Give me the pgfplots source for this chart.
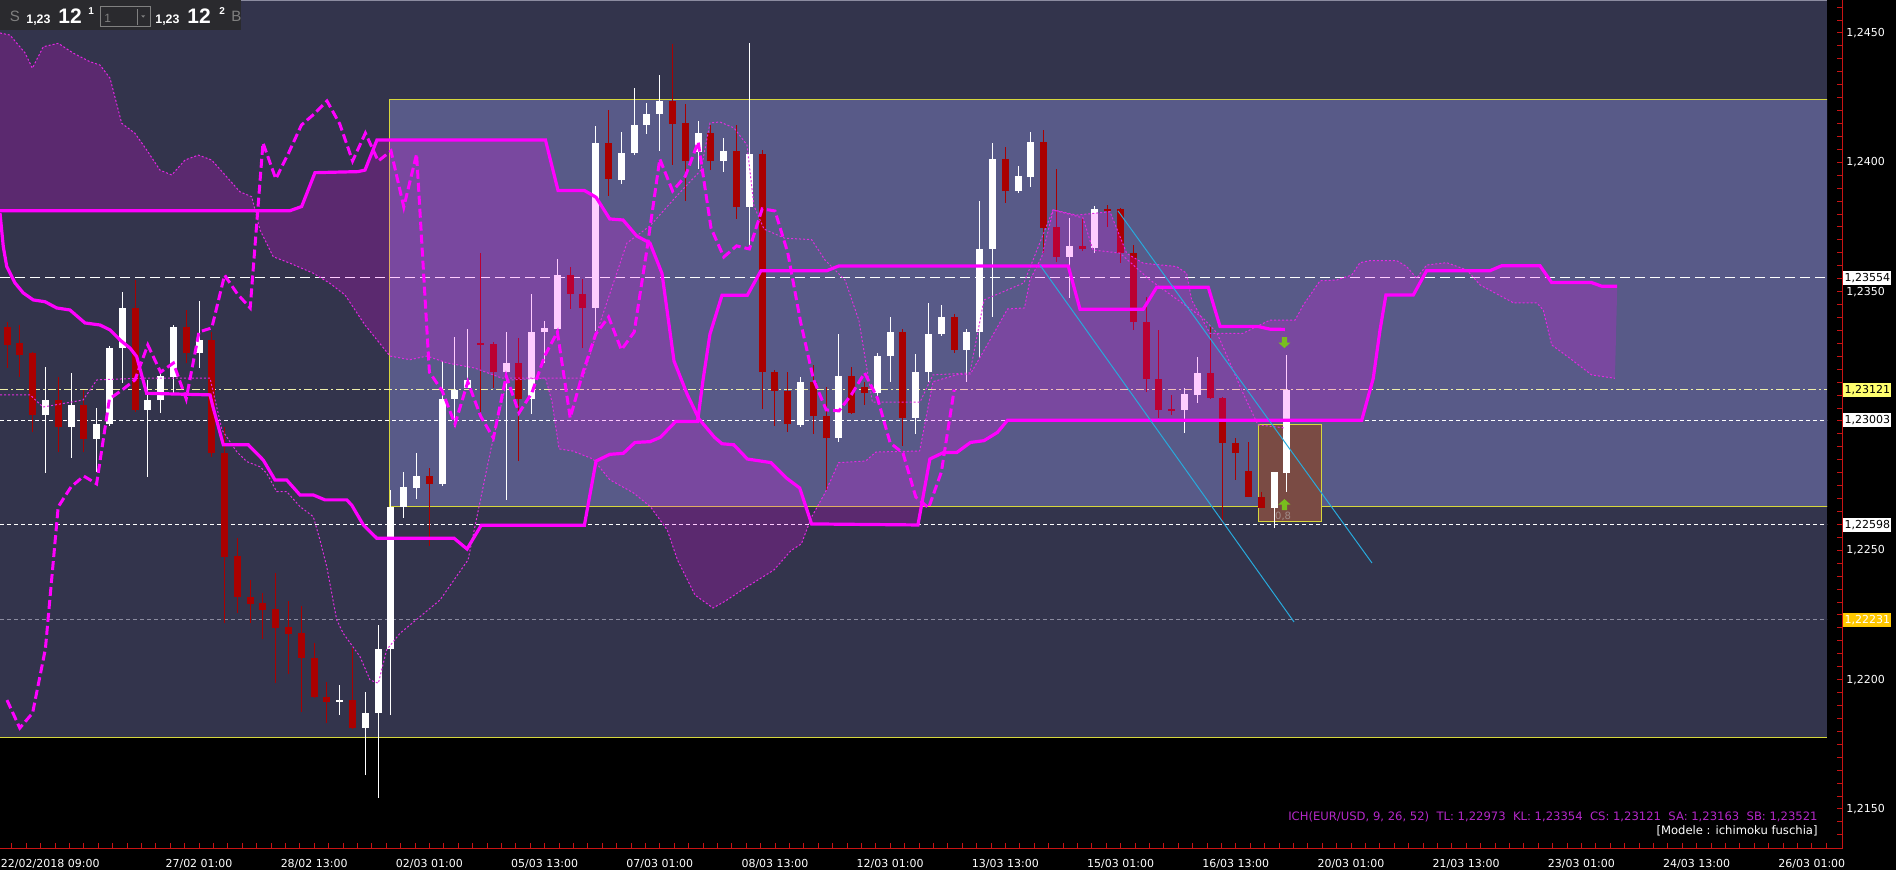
\documentclass[border=0pt]{standalone}
\usepackage{fontspec}
\setmainfont{DejaVu Sans}
\newfontfamily\arialf{Liberation Sans}
\usepackage{pgfplots}
\pgfplotsset{compat=1.18}
\usepgfplotslibrary{fillbetween}
\usepackage{pgfplotstable}

\definecolor{navy}{RGB}{51,52,76}
\definecolor{slate}{RGB}{88,90,136}
\definecolor{candred}{RGB}{170,0,0}
\definecolor{axred}{RGB}{200,20,20}
\definecolor{yel}{RGB}{215,215,60}
\definecolor{mag}{RGB}{255,0,255}
\definecolor{magdot}{RGB}{225,45,225}
\definecolor{cyanl}{RGB}{40,170,220}
\definecolor{orect}{RGB}{122,75,68}
\definecolor{arrgreen}{RGB}{120,190,30}
\definecolor{panel}{RGB}{42,42,46}
\definecolor{ichpurple}{RGB}{180,40,200}
\definecolor{labyel}{RGB}{255,255,110}
\definecolor{laborange}{RGB}{255,200,0}
\definecolor{grayline}{RGB}{140,140,160}
\definecolor{dashyel}{RGB}{240,240,170}

\pgfdeclareplotmark{arrdown}{%
  \pgfpathmoveto{\pgfpoint{-1.3pt}{2.75pt}}%
  \pgfpathlineto{\pgfpoint{1.3pt}{2.75pt}}%
  \pgfpathlineto{\pgfpoint{1.3pt}{0pt}}%
  \pgfpathlineto{\pgfpoint{3pt}{0pt}}%
  \pgfpathlineto{\pgfpoint{0pt}{-2.75pt}}%
  \pgfpathlineto{\pgfpoint{-3pt}{0pt}}%
  \pgfpathlineto{\pgfpoint{-1.3pt}{0pt}}%
  \pgfpathclose\pgfusepathqfill}
\pgfdeclareplotmark{arrup}{%
  \pgfpathmoveto{\pgfpoint{-1.3pt}{-2.75pt}}%
  \pgfpathlineto{\pgfpoint{1.3pt}{-2.75pt}}%
  \pgfpathlineto{\pgfpoint{1.3pt}{0pt}}%
  \pgfpathlineto{\pgfpoint{3pt}{0pt}}%
  \pgfpathlineto{\pgfpoint{0pt}{2.75pt}}%
  \pgfpathlineto{\pgfpoint{-3pt}{0pt}}%
  \pgfpathlineto{\pgfpoint{-1.3pt}{0pt}}%
  \pgfpathclose\pgfusepathqfill}

% 4h candles, x = candle index (0 = 22/02/2018 09:00 tick)
\pgfplotstableread{
k o h l c
-6 1.23363 1.23383 1.23205 1.23294
-5 1.23302 1.23371 1.23170 1.23255
-4 1.23263 1.23267 1.22958 1.23023
-2 1.23081 1.23170 1.22880 1.22977
0 1.23062 1.23120 1.22880 1.22931
4 1.23437 1.23545 1.23035 1.23043
8 1.23363 1.23429 1.23224 1.23263
10 1.23313 1.23344 1.22861 1.22876
11 1.22876 1.22977 1.22219 1.22474
12 1.22478 1.22548 1.22258 1.22320
13 1.22320 1.22385 1.22219 1.22293
14 1.22296 1.22335 1.22157 1.22269
15 1.22273 1.22412 1.21987 1.22200
16 1.22204 1.22304 1.22022 1.22177
17 1.22180 1.22285 1.21875 1.22084
18 1.22084 1.22142 1.21929 1.21933
19 1.21933 1.21991 1.21833 1.21914
21 1.21921 1.22123 1.21809 1.21813
27 1.22787 1.22818 1.22517 1.22757
31 1.23302 1.23650 1.23035 1.23294
32 1.23298 1.23305 1.23128 1.23189
34 1.23224 1.23321 1.22845 1.23085
38 1.23564 1.23595 1.23433 1.23491
39 1.23491 1.23549 1.23282 1.23437
41 1.24075 1.24202 1.23870 1.23936
46 1.24237 1.24458 1.23990 1.24148
47 1.24152 1.24226 1.23851 1.24005
49 1.24113 1.24144 1.23970 1.24005
51 1.24044 1.24144 1.23781 1.23827
53 1.24032 1.24048 1.23046 1.23189
54 1.23189 1.23197 1.22981 1.23116
55 1.23116 1.23189 1.22958 1.22988
57 1.23151 1.23217 1.22950 1.23019
58 1.23019 1.23132 1.22733 1.22934
60 1.23174 1.23209 1.23027 1.23031
61 1.23132 1.23151 1.23062 1.23108
64 1.23344 1.23356 1.22903 1.23012
68 1.23402 1.23414 1.23263 1.23275
72 1.24013 1.24059 1.23843 1.23889
75 1.24079 1.24125 1.23650 1.23746
76 1.23750 1.23974 1.23615 1.23634
78 1.23677 1.23785 1.23657 1.23665
80 1.23820 1.23835 1.23750 1.23812
81 1.23820 1.23824 1.23611 1.23650
82 1.23650 1.23681 1.23352 1.23383
83 1.23383 1.23479 1.23112 1.23162
84 1.23162 1.23352 1.23012 1.23043
85 1.23046 1.23101 1.23023 1.23039
88 1.23186 1.23363 1.23085 1.23089
89 1.23089 1.23093 1.22606 1.22915
90 1.22915 1.22934 1.22772 1.22876
91 1.22807 1.22919 1.22706 1.22706
92 1.22706 1.22726 1.22664 1.22664
}\redc

\pgfplotstableread{
k o h l c
-3 1.23023 1.23209 1.22799 1.23081
-1 1.22977 1.23186 1.22857 1.23062
1 1.22931 1.23050 1.22803 1.22988
2 1.22988 1.23290 1.22981 1.23282
3 1.23282 1.23499 1.23147 1.23437
5 1.23043 1.23159 1.22784 1.23081
6 1.23081 1.23197 1.23031 1.23174
7 1.23170 1.23371 1.23108 1.23363
9 1.23263 1.23464 1.23205 1.23313
20 1.21914 1.21979 1.21863 1.21921
22 1.21813 1.21952 1.21631 1.21871
23 1.21871 1.22211 1.21543 1.22119
24 1.22119 1.22733 1.21863 1.22668
25 1.22668 1.22803 1.22625 1.22745
26 1.22741 1.22876 1.22699 1.22787
28 1.22757 1.23232 1.22749 1.23085
29 1.23085 1.23325 1.22977 1.23120
30 1.23128 1.23356 1.23128 1.23159
33 1.23189 1.23344 1.22695 1.23224
35 1.23085 1.23491 1.23027 1.23344
36 1.23344 1.23387 1.23224 1.23360
37 1.23356 1.23626 1.23336 1.23564
40 1.23437 1.24140 1.23348 1.24075
42 1.23932 1.24117 1.23916 1.24036
43 1.24036 1.24287 1.24028 1.24144
44 1.24144 1.24229 1.24110 1.24187
45 1.24187 1.24338 1.24044 1.24237
48 1.24040 1.24160 1.23974 1.24113
50 1.24005 1.24094 1.23963 1.24044
52 1.23827 1.24461 1.23677 1.24032
56 1.22985 1.23170 1.22977 1.23151
59 1.22934 1.23336 1.22919 1.23174
62 1.23108 1.23263 1.23073 1.23251
63 1.23251 1.23402 1.23151 1.23344
65 1.23012 1.23259 1.22950 1.23189
66 1.23189 1.23456 1.23151 1.23336
67 1.23336 1.23448 1.23329 1.23402
69 1.23275 1.23356 1.23151 1.23344
70 1.23344 1.23851 1.23244 1.23665
71 1.23665 1.24075 1.23402 1.24013
73 1.23889 1.23986 1.23881 1.23947
74 1.23943 1.24117 1.23905 1.24079
77 1.23634 1.23785 1.23476 1.23677
79 1.23669 1.23831 1.23650 1.23820
86 1.23043 1.23128 1.22954 1.23104
87 1.23101 1.23247 1.23070 1.23186
93 1.22664 1.22803 1.22586 1.22803
94 1.22799 1.23255 1.22726 1.23121
}\whitec

% chikou span (closes plotted 26 candles back)
\pgfplotstableread{
k v
-6 1.21921
-5 1.21813
-4 1.21871
-3 1.22119
-2 1.22668
-1 1.22745
0 1.22787
1 1.22757
2 1.23085
3 1.23120
4 1.23159
5 1.23294
6 1.23189
7 1.23224
8 1.23085
9 1.23344
10 1.23360
11 1.23564
12 1.23491
13 1.23437
14 1.24075
15 1.23936
16 1.24036
17 1.24144
18 1.24187
19 1.24237
20 1.24148
21 1.24005
22 1.24113
23 1.24005
24 1.24044
25 1.23827
26 1.24032
27 1.23189
28 1.23116
29 1.22988
30 1.23151
31 1.23019
32 1.22934
33 1.23174
34 1.23031
35 1.23108
36 1.23251
37 1.23344
38 1.23012
39 1.23189
40 1.23336
41 1.23402
42 1.23275
43 1.23344
44 1.23665
45 1.24013
46 1.23889
47 1.23947
48 1.24079
49 1.23746
50 1.23634
51 1.23677
52 1.23665
53 1.23820
54 1.23812
55 1.23650
56 1.23383
57 1.23162
58 1.23043
59 1.23039
60 1.23104
61 1.23186
62 1.23089
63 1.22915
64 1.22876
65 1.22706
66 1.22664
67 1.22803
68 1.23121
}\chikou

\newcommand\lab{\fontsize{5.5}{6.6}\selectfont}

\begin{document}
\begin{tikzpicture}
\fill[black] (0,0) rectangle (948pt,435pt);

\begin{axis}[
  at={(0pt,17pt)}, anchor=south west,
  width=913.5pt, height=418pt, scale only axis,
  xmin=-6.547, xmax=136.19, ymin=1.213956, ymax=1.246276,
  clip mode=individual,
  /tikz/fill between/on layer=main,
  axis x line*=bottom, axis y line*=right,
  axis line style={draw=axred, line width=0.5pt, -},
  tick align=outside, major tick length=7pt,
  tick style={draw=axred, line width=0.5pt},
  xtick={0,9,...,135},
  xticklabels={{},27/02 01:00,28/02 13:00,02/03 01:00,05/03 13:00,07/03 01:00,08/03 13:00,12/03 01:00,13/03 13:00,15/03 01:00,16/03 13:00,20/03 01:00,21/03 13:00,23/03 01:00,24/03 13:00,26/03 01:00},
  ytick={1.215,1.22,1.225,1.23,1.235,1.24,1.245},
  yticklabels={{1,2150},{1,2200},{1,2250},{},{1,2350},{1,2400},{1,2450}},
  ticklabel style={text=white, font=\lab, inner sep=0pt},
  xticklabel style={anchor=north, yshift=-4.5pt},
  yticklabel style={anchor=west, xshift=2.5pt},
]
% backgrounds
\addplot[draw=none, fill=navy, forget plot] coordinates {(-6.547,1.21778)(136.19,1.21778)(136.19,1.246276)(-6.547,1.246276)} --cycle;
\addplot[yel, line width=0.5pt, forget plot] coordinates {(-6.547,1.21778)(136.19,1.21778)};
\addplot[draw=yel, fill=slate, line width=0.5pt, forget plot] coordinates {(23.92,1.22668)(136.5,1.22668)(136.5,1.24241)(23.92,1.24241)} --cycle;

% horizontal levels
\addplot[white, line width=0.5pt, dash pattern=on 5pt off 2.5pt, forget plot] coordinates {(-6.547,1.23554)(136.19,1.23554)};
\addplot[dashyel, line width=0.5pt, dash pattern=on 4pt off 1.5pt on 1pt off 1.5pt, forget plot] coordinates {(-6.547,1.23121)(136.19,1.23121)};
\addplot[white, line width=0.5pt, dash pattern=on 2pt off 1.5pt, forget plot] coordinates {(-6.547,1.23003)(136.19,1.23003)};
\addplot[white, line width=0.5pt, dash pattern=on 2pt off 1.5pt, forget plot] coordinates {(-6.547,1.22598)(136.19,1.22598)};
\addplot[grayline, line width=0.5pt, dash pattern=on 2pt off 1.5pt, forget plot] coordinates {(-6.547,1.22231)(136.19,1.22231)};

% zone box
\addplot[draw=yel, fill=orect, line width=0.6pt, forget plot] coordinates {(91.76,1.22611)(96.71,1.22611)(96.71,1.22985)(91.76,1.22985)} --cycle;

% candles: wicks then bodies
\addplot[draw=none, mark=none, forget plot, error bars/.cd, y dir=plus, y explicit, error mark=none,
  error bar style={draw=candred, line width=0.5pt}]
  table[x=k, y=l, y error plus expr=\thisrow{h}-\thisrow{l}] {\redc};
\addplot[draw=none, mark=none, forget plot, error bars/.cd, y dir=plus, y explicit, error mark=none,
  error bar style={draw=candred, line width=3.5pt}]
  table[x=k, y expr={min(\thisrow{o},\thisrow{c})}, y error plus expr={max(abs(\thisrow{c}-\thisrow{o}),0.00004)}] {\redc};
\addplot[draw=none, mark=none, forget plot, error bars/.cd, y dir=plus, y explicit, error mark=none,
  error bar style={draw=white, line width=0.5pt}]
  table[x=k, y=l, y error plus expr=\thisrow{h}-\thisrow{l}] {\whitec};
\addplot[draw=none, mark=none, forget plot, error bars/.cd, y dir=plus, y explicit, error mark=none,
  error bar style={draw=white, line width=3.5pt}]
  table[x=k, y expr={min(\thisrow{o},\thisrow{c})}, y error plus expr={max(abs(\thisrow{c}-\thisrow{o}),0.00004)}] {\whitec};

% leading span (thick) and cloud edge (dotted)
\addplot[mag, line width=1.6pt, name path=T1] coordinates {(-6.547,1.23813)(16.11,1.23813)(17.02,1.23829)(18.06,1.23960)(21.42,1.23964)(21.97,1.23970)(22.9,1.24086)(36.07,1.24086)(37.05,1.23891)(39.11,1.23891)(40.02,1.23865)(41.09,1.23781)(42.13,1.23777)(43.2,1.23715)(44.23,1.23688)(45.17,1.23571)(46.11,1.23232)(47.16,1.23101)(48.06,1.23008)(49.27,1.22937)(49.86,1.22912)(50.78,1.22908)(51.84,1.22853)(53.69,1.22839)(54.88,1.22780)(55.93,1.22741)(56.86,1.22602)(65.17,1.22598)(66.1,1.22853)(67.16,1.22878)(68.2,1.22878)(69.27,1.22917)(70.33,1.22924)(71.38,1.22956)(72.17,1.23003)(99.84,1.23003)(100.74,1.23165)(101.27,1.23352)(101.73,1.23487)(103.87,1.23487)(104.91,1.23581)(109.86,1.23581)(110.77,1.23600)(113.77,1.23600)(114.68,1.23535)(117.8,1.23535)(118.59,1.23521)(119.8,1.23521)};
\addplot[magdot, line width=0.5pt, dash pattern=on 1pt off 1pt, name path=SA] coordinates {(-6.547,1.24500)(-5.77,1.24492)(-4.59,1.24423)(-4.02,1.24364)(-3.16,1.24447)(-1.99,1.24460)(-0.82,1.24422)(0.48,1.24389)(1.27,1.24376)(2.05,1.24325)(2.96,1.24151)(4.0,1.24112)(4.91,1.24048)(5.95,1.23970)(6.87,1.23951)(7.91,1.24009)(8.95,1.24028)(9.99,1.24009)(11.16,1.23944)(12.2,1.23886)(13.12,1.23867)(13.77,1.23738)(14.8,1.23635)(16.11,1.23610)(17.93,1.23571)(19.23,1.23532)(20.41,1.23487)(21.97,1.23371)(23.92,1.23251)(25.48,1.23237)(26.81,1.23251)(28.41,1.23224)(30.52,1.23205)(32.64,1.23166)(36.07,1.23166)(36.58,1.23074)(37.13,1.22892)(38.19,1.22884)(39.78,1.22853)(41.09,1.22773)(42.94,1.22722)(44.26,1.22669)(45.58,1.22579)(46.38,1.22463)(47.75,1.22327)(49.16,1.22277)(50.13,1.22304)(51.55,1.22351)(53.92,1.22424)(55.25,1.22499)(56.06,1.22525)(56.86,1.22629)(57.91,1.22722)(58.97,1.22839)(61.08,1.22845)(61.88,1.22880)(65.3,1.22884)(66.34,1.23152)(68.22,1.23179)(69.27,1.23182)(70.8,1.23313)(72.17,1.23433)(73.49,1.23437)(73.92,1.23545)(74.84,1.23635)(75.74,1.23816)(77.57,1.23796)(80.17,1.23809)(81.48,1.23648)(82.77,1.23610)(85.38,1.23597)(86.16,1.23571)(86.55,1.23468)(87.98,1.23339)(90.56,1.23339)(92.67,1.23390)(94.63,1.23390)(95.27,1.23448)(96.58,1.23542)(97.88,1.23545)(99.05,1.23564)(99.7,1.23612)(100.48,1.23620)(102.57,1.23620)(103.35,1.23597)(104.13,1.23552)(104.91,1.23603)(106.48,1.23612)(108.04,1.23584)(109.08,1.23526)(111.68,1.23457)(113.51,1.23457)(114.02,1.23429)(114.68,1.23294)(116.11,1.23242)(117.8,1.23178)(119.62,1.23165)};
\addplot[fill=mag, fill opacity=0.2, draw=none] fill between[of=T1 and SA];

% kijun
\addplot[mag, line width=1.6pt] coordinates {(-6.547,1.23804)(-6.29,1.23674)(-6.02,1.23597)(-5.38,1.23534)(-4.73,1.23495)(-3.95,1.23468)(-3.03,1.23461)(-2.12,1.23437)(-1.08,1.23429)(0.09,1.23379)(1.27,1.23371)(2.05,1.23352)(2.83,1.23313)(3.61,1.23282)(4.13,1.23249)(4.91,1.23107)(9.86,1.23101)(10.09,1.23055)(10.9,1.22908)(12.85,1.22908)(14.02,1.22849)(14.94,1.22772)(15.85,1.22772)(16.89,1.22714)(17.93,1.22714)(18.84,1.22695)(20.54,1.22695)(20.93,1.22675)(21.84,1.22598)(22.88,1.22547)(28.92,1.22547)(29.94,1.22505)(31.05,1.22597)(39.11,1.22597)(40.02,1.22845)(41.09,1.22871)(42.15,1.22875)(43.06,1.22917)(44.23,1.22920)(45.05,1.22937)(46.24,1.22998)(47.95,1.22998)(48.38,1.23159)(48.92,1.23336)(49.86,1.23486)(51.84,1.23486)(52.9,1.23581)(58.05,1.23581)(58.97,1.23599)(76.91,1.23599)(77.83,1.23432)(82.77,1.23432)(83.82,1.23517)(87.85,1.23517)(88.77,1.23365)(91.76,1.23365)(92.67,1.23355)(93.84,1.23354)};
% tenkan (thin dotted)
\addplot[magdot, line width=0.5pt, dash pattern=on 1pt off 1pt] coordinates {(-6.547,1.23101)(-4.2,1.23101)(-3.19,1.23054)(-0.06,1.23081)(1.03,1.23159)(4.94,1.23166)(9.86,1.23166)(10.8,1.22965)(11.95,1.22881)(12.73,1.22843)(13.77,1.22823)(14.29,1.22798)(15.07,1.22727)(15.85,1.22727)(16.89,1.22669)(17.93,1.22630)(18.45,1.22540)(18.98,1.22437)(19.76,1.22231)(20.27,1.22179)(21.58,1.22089)(22.36,1.21999)(23.01,1.21986)(23.66,1.22115)(24.7,1.22179)(27.83,1.22308)(30.02,1.22463)(31.81,1.22892)(33.06,1.23158)(36.03,1.23166)(39.0,1.23166)(40.09,1.23344)(42.43,1.23688)(44.23,1.23754)(46.34,1.23871)(48.22,1.23970)(48.92,1.24152)(49.7,1.24156)(50.8,1.24133)(51.81,1.24067)(52.36,1.23831)(53.14,1.23742)(54.74,1.23707)(56.86,1.23701)(57.91,1.23622)(59.47,1.23545)(60.56,1.23388)(61.61,1.23073)(65.33,1.23073)(66.34,1.23178)(69.23,1.23186)(70.33,1.23468)(73.45,1.23534)(74.78,1.23700)(75.72,1.23816)(78.06,1.23785)(78.84,1.23661)(80.95,1.23649)(83.3,1.23545)(87.44,1.23398)(88.53,1.23340)(89.55,1.23224)(90.56,1.23108)(91.73,1.22985)(93.84,1.22973)};
% chikou
\addplot[mag, line width=1.5pt, dash pattern=on 4.5pt off 2pt] table[x=k, y=v] {\chikou};

% trend channel
\addplot[cyanl, line width=0.5pt] coordinates {(74.7,1.23603)(94.55,1.22223)};
\addplot[cyanl, line width=0.5pt] coordinates {(80.8,1.23812)(100.64,1.22451)};

% signal arrows
\addplot[only marks, mark=arrdown, color=arrgreen] coordinates {(93.8,1.23303)};
\addplot[only marks, mark=arrup, color=arrgreen] coordinates {(93.8,1.22677)};
\node[text={rgb,255:red,160;green,140;blue,136}, font=\fontsize{5}{6}\selectfont, inner sep=0pt] at (axis cs:93.7,1.2263) {0,8};

% price tags on the right scale
\node[anchor=west, fill=white, text=black, inner xsep=0.6pt, inner ysep=0pt, minimum height=7pt, font=\lab] at ([xshift=8pt]axis cs:136.19,1.23554) {1,23554};
\node[anchor=west, fill=labyel, text=black, inner xsep=0.6pt, inner ysep=0pt, minimum height=7pt, font=\lab] at ([xshift=8pt]axis cs:136.19,1.23121) {1,23121};
\node[anchor=west, fill=white, text=black, inner xsep=0.6pt, inner ysep=0pt, minimum height=7pt, font=\lab] at ([xshift=8pt]axis cs:136.19,1.23003) {1,23003};
\node[anchor=west, fill=white, text=black, inner xsep=0.6pt, inner ysep=0pt, minimum height=7pt, font=\lab] at ([xshift=8pt]axis cs:136.19,1.22598) {1,22598};
\node[anchor=west, fill=laborange, text=white, inner xsep=0.6pt, inner ysep=0pt, minimum height=7pt, font=\lab] at ([xshift=8pt]axis cs:136.19,1.22231) {1,22231};
\end{axis}

% outer frame and minor ticks
\draw[axred, line width=0.5pt] (0,10.5pt) -- (921pt,10.5pt) -- (921pt,435pt);
\foreach \j in {-5,...,121} \draw[axred, line width=0.5pt] (41.9pt+7.2pt*\j,10.5pt) -- ++(0,3pt);
\foreach \j in {-2,...,62} \draw[axred, line width=0.5pt] (918.5pt,30.5pt+6.4667pt*\j) -- ++(2.5pt,0);
\draw[grayline, line width=0.5pt] (0,434.75pt) -- (913.5pt,434.75pt);
\node[anchor=north west, inner sep=0pt, text=white, font=\lab] at (0.3pt,5.5pt) {22/02/2018 09:00};

% indicator caption
\node[anchor=base east, inner sep=0pt, text=ichpurple, font=\fontsize{5.8}{6.8}\selectfont] at (909pt,24.5pt) {ICH(EUR/USD, 9, 26, 52)\ \ TL: 1,22973\ \ KL: 1,23354\ \ CS: 1,23121\ \ SA: 1,23163\ \ SB: 1,23521};
\node[anchor=base east, inner sep=0pt, text=white, font=\fontsize{5.8}{6.8}\selectfont] at (909pt,17.6pt) {[Modele : ichimoku fuschia]};

% quote panel
\fill[panel] (0,435pt) rectangle (120.5pt,420pt);
\node[anchor=base west, inner sep=0pt, text=gray, font=\arialf\fontsize{7.5}{8}\selectfont] at (4.8pt,424pt) {S};
\node[anchor=base west, inner sep=0pt, text=white, font=\arialf\bfseries\fontsize{6.2}{7}\selectfont] at (13pt,423pt) {1,23};
\node[anchor=base west, inner sep=0pt, text=white, font=\arialf\bfseries\fontsize{10.5}{12}\selectfont] at (29pt,423pt) {12};
\node[anchor=base west, inner sep=0pt, text=white, font=\arialf\bfseries\fontsize{5}{6}\selectfont] at (44pt,427.5pt) {1};
\draw[gray, line width=0.5pt] (50pt,431.5pt) rectangle (75pt,421.5pt);
\draw[gray, line width=0.5pt] (68.5pt,430.5pt) -- (68.5pt,422.5pt);
\fill[gray] (70.6pt,427.3pt) -- (72.6pt,427.3pt) -- (71.6pt,426.2pt) -- cycle;
\node[anchor=base west, inner sep=0pt, text=gray, font=\arialf\fontsize{6}{7}\selectfont] at (52pt,423.5pt) {1};
\node[anchor=base west, inner sep=0pt, text=white, font=\arialf\bfseries\fontsize{6.2}{7}\selectfont] at (77.5pt,423pt) {1,23};
\node[anchor=base west, inner sep=0pt, text=white, font=\arialf\bfseries\fontsize{10.5}{12}\selectfont] at (93.5pt,423pt) {12};
\node[anchor=base west, inner sep=0pt, text=white, font=\arialf\bfseries\fontsize{5}{6}\selectfont] at (109.5pt,427.5pt) {2};
\node[anchor=base west, inner sep=0pt, text=gray, font=\arialf\fontsize{7.5}{8}\selectfont] at (115.5pt,424pt) {B};
\pgfresetboundingbox
\path[use as bounding box] (0,0) rectangle (948pt,435pt);
\end{tikzpicture}
\end{document}
